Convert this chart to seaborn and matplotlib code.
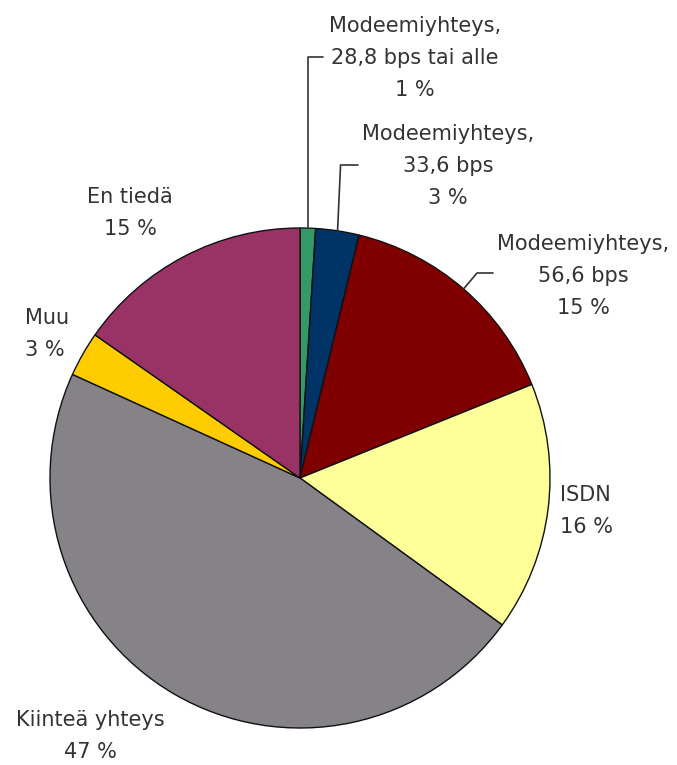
import numpy as np
import matplotlib
matplotlib.use("Agg")
import matplotlib.pyplot as plt
import seaborn as sns

categories = ["Modeemiyhteys,\n28,8 bps tai alle", "Modeemiyhteys,\n33,6 bps",
              "Modeemiyhteys,\n56,6 bps", "ISDN", "Kiinteä yhteys", "Muu", "En tiedä"]
values = [1.0, 2.8, 15.1, 16.1, 46.8, 2.9, 15.3]
pct_labels = ["1 %", "3 %", "15 %", "16 %", "47 %", "3 %", "15 %"]
colors = ["#339966", "#003366", "#800000", "#FFFF99", "#858387", "#FFCC00", "#993366"]

sns.set_theme(style="white")
plt.rcParams['font.family'] = ['DejaVu Sans']

W, H = 677, 765
fig = plt.figure(figsize=(W / 100, H / 100), dpi=100)
ax = fig.add_axes([0, 0, 1, 1])

cx, cy, R = 300, 478, 250
def P(x, y):
    return x, H - y

ax.pie(values, colors=colors, startangle=90, counterclock=False,
       center=P(cx, cy), radius=R,
       wedgeprops=dict(edgecolor="#111111", linewidth=1.0))
ax.set_xlim(0, W)
ax.set_ylim(0, H)
ax.set_aspect("equal")
ax.axis("off")

txt = dict(fontsize=15, color="#333333", linespacing=1.72)
# label positions (pixel coords of text block center / anchor)
lab_pos = [(415, 58, "center"), (448, 166, "center"), (583, 276, "center"),
           (560, 511, "left"), (90, 736, "center"), (25, 334, "left"), (130, 213, "center")]
for cat, pl, (x, y, ha) in zip(categories, pct_labels, lab_pos):
    X, Y = P(x, y)
    ax.text(X, Y, f"{cat}\n{pl}", ha=ha, va="center", multialignment=ha, **txt)

# leader lines from wedge midpoints
cum = np.cumsum([0] + values[:-1])
mids = [(c + v / 2) / 100 * 2 * np.pi for c, v in zip(cum, values)]
def edge(i):
    a = mids[i]
    return cx + R * np.sin(a), cy - R * np.cos(a)

lc = dict(color="#333333", linewidth=1.2)
x0, y0 = edge(0)
pts = [(x0, y0), (x0, 57), (323, 57)]
ax.plot(*zip(*[P(*p) for p in pts]), **lc)
x0, y0 = edge(1)
pts = [(x0, y0), (x0 + 3, 165), (358, 165)]
ax.plot(*zip(*[P(*p) for p in pts]), **lc)
x0, y0 = edge(2)
pts = [(x0, y0), (477, 273), (493, 273)]
ax.plot(*zip(*[P(*p) for p in pts]), **lc)

fig.savefig("out.png", dpi=100, facecolor="white")
